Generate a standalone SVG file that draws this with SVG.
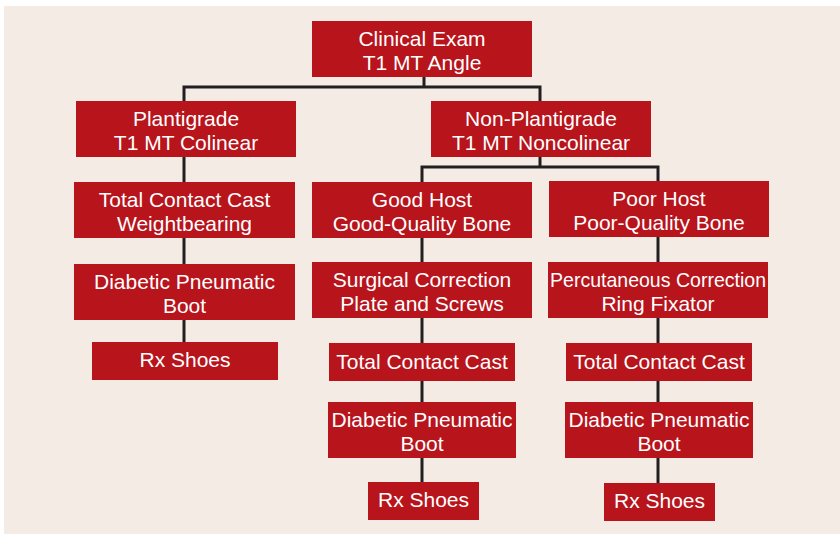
<svg xmlns="http://www.w3.org/2000/svg" width="840" height="534" viewBox="0 0 840 534">
<style>
.n rect{fill:#b7141c}
.n text{fill:#ffffff;font-family:"Liberation Sans",Arial,Helvetica,sans-serif;font-size:21px;text-anchor:middle}
.c path{fill:none;stroke:#231f20;stroke-width:3}
</style>
<rect x="4" y="6" width="836" height="528" fill="#f3ebe4"/>
<g id="connectors" class="c">
<path d="M424,77 V87"/>
<path d="M184,101 V87 H540 V101"/>
<path d="M184,157 V342"/>
<path d="M540,157 V167"/>
<path d="M422,182 V167 H658 V181"/>
<path d="M422,237 V482"/>
<path d="M658,237 V483"/>
</g>
<g id="clinical" class="n"><rect x="312" y="21" width="220" height="56"/><text x="422" y="46">Clinical Exam</text><text x="422" y="70">T1 MT Angle</text></g>
<g id="plantigrade" class="n"><rect x="76" y="101" width="220" height="56"/><text x="186" y="126">Plantigrade</text><text x="186" y="150">T1 MT Colinear</text></g>
<g id="tcc-left" class="n"><rect x="74" y="182" width="221" height="56"/><text x="184.5" y="207">Total Contact Cast</text><text x="184.5" y="231">Weightbearing</text></g>
<g id="boot-left" class="n"><rect x="74" y="264" width="221" height="56"/><text x="184.5" y="289">Diabetic Pneumatic</text><text x="184.5" y="313">Boot</text></g>
<g id="shoes-left" class="n"><rect x="92" y="342" width="186" height="38"/><text x="185" y="367">Rx Shoes</text></g>
<g id="nonplantigrade" class="n"><rect x="431" y="101" width="220" height="56"/><text x="541" y="126">Non-Plantigrade</text><text x="541" y="150">T1 MT Noncolinear</text></g>
<g id="goodhost" class="n"><rect x="312" y="182" width="220" height="56"/><text x="422" y="207">Good Host</text><text x="422" y="231">Good-Quality Bone</text></g>
<g id="surgical" class="n"><rect x="312" y="262" width="220" height="56"/><text x="422" y="287">Surgical Correction</text><text x="422" y="311">Plate and Screws</text></g>
<g id="tcc-mid" class="n"><rect x="329" y="343" width="186" height="38"/><text x="422" y="369">Total Contact Cast</text></g>
<g id="boot-mid" class="n"><rect x="328" y="402" width="188" height="56"/><text x="422" y="427">Diabetic Pneumatic</text><text x="422" y="451">Boot</text></g>
<g id="shoes-mid" class="n"><rect x="368" y="482" width="111" height="38"/><text x="423.5" y="507">Rx Shoes</text></g>
<g id="poorhost" class="n"><rect x="549" y="181" width="220" height="56"/><text x="659" y="206">Poor Host</text><text x="659" y="230">Poor-Quality Bone</text></g>
<g id="percutaneous" class="n"><rect x="548" y="262" width="220" height="56"/><text x="658" y="287" textLength="216" lengthAdjust="spacingAndGlyphs">Percutaneous Correction</text><text x="658" y="311">Ring Fixator</text></g>
<g id="tcc-right" class="n"><rect x="566" y="343" width="186" height="38"/><text x="659" y="369">Total Contact Cast</text></g>
<g id="boot-right" class="n"><rect x="565" y="402" width="188" height="56"/><text x="659" y="427">Diabetic Pneumatic</text><text x="659" y="451">Boot</text></g>
<g id="shoes-right" class="n"><rect x="604" y="483" width="111" height="38"/><text x="659.5" y="508">Rx Shoes</text></g>
</svg>
